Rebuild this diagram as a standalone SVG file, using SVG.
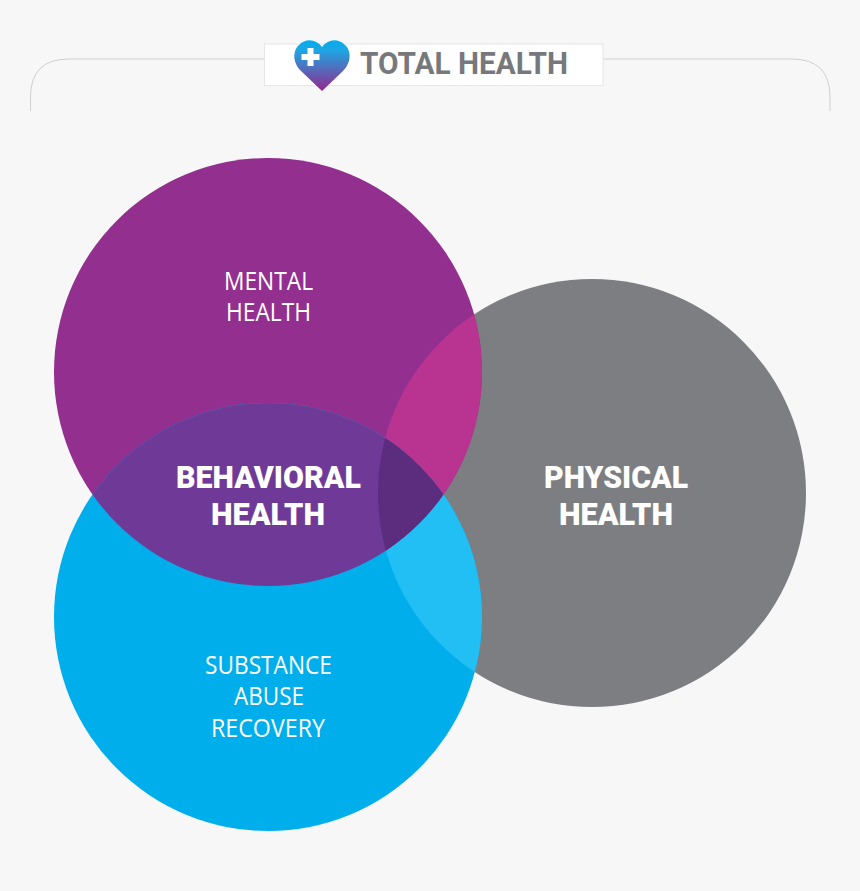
<svg xmlns="http://www.w3.org/2000/svg" width="860" height="891" viewBox="0 0 860 891">
<style>
.bg{fill:#f7f7f7}
.frame{fill:none;stroke:#cfcfcf;stroke-width:1}
.light{font-family:"Open Sans","Liberation Sans",sans-serif;font-size:25px;fill:#fff;text-anchor:middle}
.bold{font-family:Roboto,"Liberation Sans",sans-serif;font-weight:900;font-size:31px;fill:#fff;text-anchor:middle}
.title{font-family:Roboto,"Liberation Sans",sans-serif;font-weight:700;font-size:31px;fill:#77787b}
</style>
<defs>
<linearGradient id="hg" x1="0" y1="0" x2="0" y2="1"><stop offset="0" stop-color="#00aeef"/><stop offset=".2" stop-color="#1fa5e2"/><stop offset="1" stop-color="#93278f"/></linearGradient>
<clipPath id="cm"><circle cx="268" cy="372" r="214"/></clipPath>
<clipPath id="cs"><circle cx="268" cy="617" r="214"/></clipPath>
<clipPath id="cp"><circle cx="592" cy="493" r="214"/></clipPath>
</defs>
<rect class="bg" width="860" height="891"/>
<g id="frame">
<path class="frame" d="M30.500 111V97Q30.500 59 69 59H264M603 59H792Q830 59 830 97V111"/>
</g>
<g id="title">
<rect x="264.500" y="44" width="338.500" height="41.500" fill="#fff" stroke="#e6e6e6"/>
<path d="M322 91L301 71C292 62 293 50 299 45C306 38 316 39 322 47C328 39 338 38 345 45C351 50 352 62 343 71Z" fill="url(#hg)"/>
<path d="M307.500 48h6v6h6v6h-6v6h-6v-6h-6v-6h6z" fill="#fff"/>
<text class="title" x="360" y="74" textLength="208" lengthAdjust="spacingAndGlyphs">TOTAL HEALTH</text>
</g>
<g id="physical-health"><circle cx="592" cy="493" r="214" fill="#7d7e81"/></g>
<g id="mental-health"><circle cx="268" cy="372" r="214" fill="#932f8f"/></g>
<g id="substance-abuse-recovery"><circle cx="268" cy="617" r="214" fill="#00aeec"/></g>
<g id="overlap-mental-physical" clip-path="url(#cm)"><circle cx="592" cy="493" r="214" fill="#b93491"/></g>
<g id="overlap-substance-physical" clip-path="url(#cs)"><circle cx="592" cy="493" r="214" fill="#22bff4"/></g>
<g id="behavioral-health" clip-path="url(#cm)"><circle cx="268" cy="617" r="214" fill="#6f3a97"/></g>
<g id="overlap-all" clip-path="url(#cm)"><g clip-path="url(#cs)"><circle cx="592" cy="493" r="214" fill="#5c2c7f"/></g></g>
<g id="labels">
<text class="light" x="268.500" y="290" textLength="89" lengthAdjust="spacingAndGlyphs">MENTAL</text>
<text class="light" x="268.500" y="321" textLength="85" lengthAdjust="spacingAndGlyphs">HEALTH</text>
<text class="light" x="268.500" y="674" textLength="127" lengthAdjust="spacingAndGlyphs">SUBSTANCE</text>
<text class="light" x="269" y="705" textLength="70" lengthAdjust="spacingAndGlyphs">ABUSE</text>
<text class="light" x="268" y="737" textLength="114" lengthAdjust="spacingAndGlyphs">RECOVERY</text>
<text class="bold" x="268.500" y="488" textLength="185" lengthAdjust="spacingAndGlyphs">BEHAVIORAL</text>
<text class="bold" x="268" y="525" textLength="114" lengthAdjust="spacingAndGlyphs">HEALTH</text>
<text class="bold" x="616" y="488" textLength="144" lengthAdjust="spacingAndGlyphs">PHYSICAL</text>
<text class="bold" x="616" y="525" textLength="114" lengthAdjust="spacingAndGlyphs">HEALTH</text>
</g>
</svg>
